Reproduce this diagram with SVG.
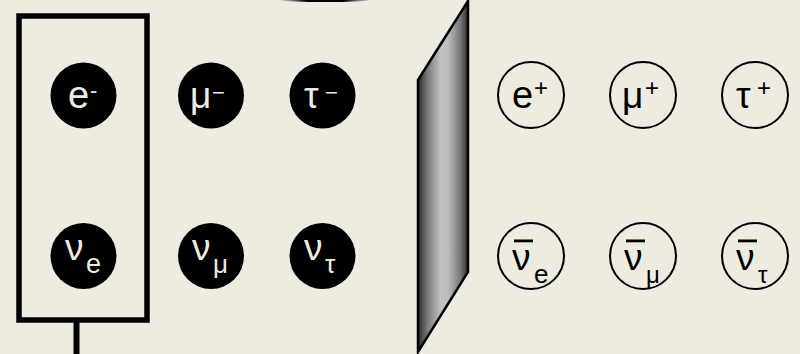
<svg xmlns="http://www.w3.org/2000/svg" width="800" height="354" viewBox="0 0 800 354">
<defs>
<linearGradient id="slab" x1="0" y1="0" x2="1" y2="0">
<stop offset="0" stop-color="#262626"/>
<stop offset="0.18" stop-color="#777"/>
<stop offset="0.45" stop-color="#c2c2c2"/>
<stop offset="0.6" stop-color="#bdbdbd"/>
<stop offset="0.85" stop-color="#777"/>
<stop offset="1" stop-color="#2a2a2a"/>
</linearGradient>
<linearGradient id="topg" x1="0" y1="0" x2="1" y2="0">
<stop offset="0" stop-color="#000" stop-opacity="0"/>
<stop offset="0.3" stop-color="#000"/>
<stop offset="0.7" stop-color="#000"/>
<stop offset="1" stop-color="#000" stop-opacity="0"/>
</linearGradient>
<style>
.t{font-family:"Liberation Sans","Noto Sans",sans-serif;}
.f{fill:#000;}
.o{fill:none;stroke:#000;stroke-width:2;}
.w{fill:#EEEBE0;}
.k{fill:#000;}
</style>
</defs>
<rect width="800" height="354" fill="#EEEBE0"/>
<path d="M278,0 L372,0 Q360,2 325,2 Q290,2 278,0 Z" fill="url(#topg)"/>
<g id="connectors">
<rect x="19" y="16" width="128" height="304" fill="none" stroke="#000" stroke-width="5.5"/>
<line x1="76.5" y1="320" x2="76.5" y2="354" stroke="#000" stroke-width="6"/>
</g>
<g id="slab">
<polygon points="418,80 468,1 468,272 418,352" fill="url(#slab)" stroke="#000" stroke-width="2.5" stroke-linejoin="miter"/>
</g>
<g id="electron">
<circle class="f" cx="83.5" cy="95.5" r="33"/>
<text class="t w" x="68" y="108" font-size="38">e</text>
<text class="t w" x="90" y="98" font-size="22">-</text>
</g>
<g id="muon">
<circle class="f" cx="211" cy="95.5" r="33"/>
<text class="t w" x="190" y="108" font-size="37">μ</text>
<text class="t w" x="212" y="100" font-size="22">−</text>
</g>
<g id="tau">
<circle class="f" cx="322.5" cy="95.5" r="33"/>
<text class="t w" x="304" y="108" font-size="37">τ</text>
<text class="t w" x="325" y="100" font-size="22">−</text>
</g>
<g id="nu_e">
<circle class="f" cx="83.5" cy="256" r="33"/>
<text class="t w" x="65" y="260" font-size="37">ν</text>
<text class="t w" x="86" y="273" font-size="27">e</text>
</g>
<g id="nu_mu">
<circle class="f" cx="211" cy="256" r="33"/>
<text class="t w" x="192" y="260" font-size="37">ν</text>
<text class="t w" x="213" y="273" font-size="26">μ</text>
</g>
<g id="nu_tau">
<circle class="f" cx="322.5" cy="256" r="33"/>
<text class="t w" x="304" y="260" font-size="37">ν</text>
<text class="t w" x="325" y="273" font-size="26">τ</text>
</g>
<g id="positron">
<circle class="o" cx="531" cy="95" r="33"/>
<text class="t k" x="512" y="108" font-size="38">e</text>
<text class="t k" x="534" y="96" font-size="24">+</text>
</g>
<g id="antimuon">
<circle class="o" cx="643" cy="95" r="33"/>
<text class="t k" x="622" y="108" font-size="37">μ</text>
<text class="t k" x="645" y="96" font-size="24">+</text>
</g>
<g id="antitau">
<circle class="o" cx="755" cy="95" r="33"/>
<text class="t k" x="736" y="108" font-size="37">τ</text>
<text class="t k" x="757" y="96" font-size="24">+</text>
</g>
<g id="antinu_e">
<circle class="o" cx="531" cy="256" r="33"/>
<rect x="514" y="239.5" width="19" height="2.8" fill="#000"/>
<text class="t k" x="512" y="270" font-size="37">ν</text>
<text class="t k" x="534" y="283" font-size="26">e</text>
</g>
<g id="antinu_mu">
<circle class="o" cx="643" cy="256" r="33"/>
<rect x="626" y="239.5" width="19" height="2.8" fill="#000"/>
<text class="t k" x="624" y="270" font-size="37">ν</text>
<text class="t k" x="646" y="283" font-size="24">μ</text>
</g>
<g id="antinu_tau">
<circle class="o" cx="755" cy="256" r="33"/>
<rect x="738" y="239.5" width="19" height="2.8" fill="#000"/>
<text class="t k" x="736" y="270" font-size="37">ν</text>
<text class="t k" x="758" y="283" font-size="24">τ</text>
</g>
</svg>
